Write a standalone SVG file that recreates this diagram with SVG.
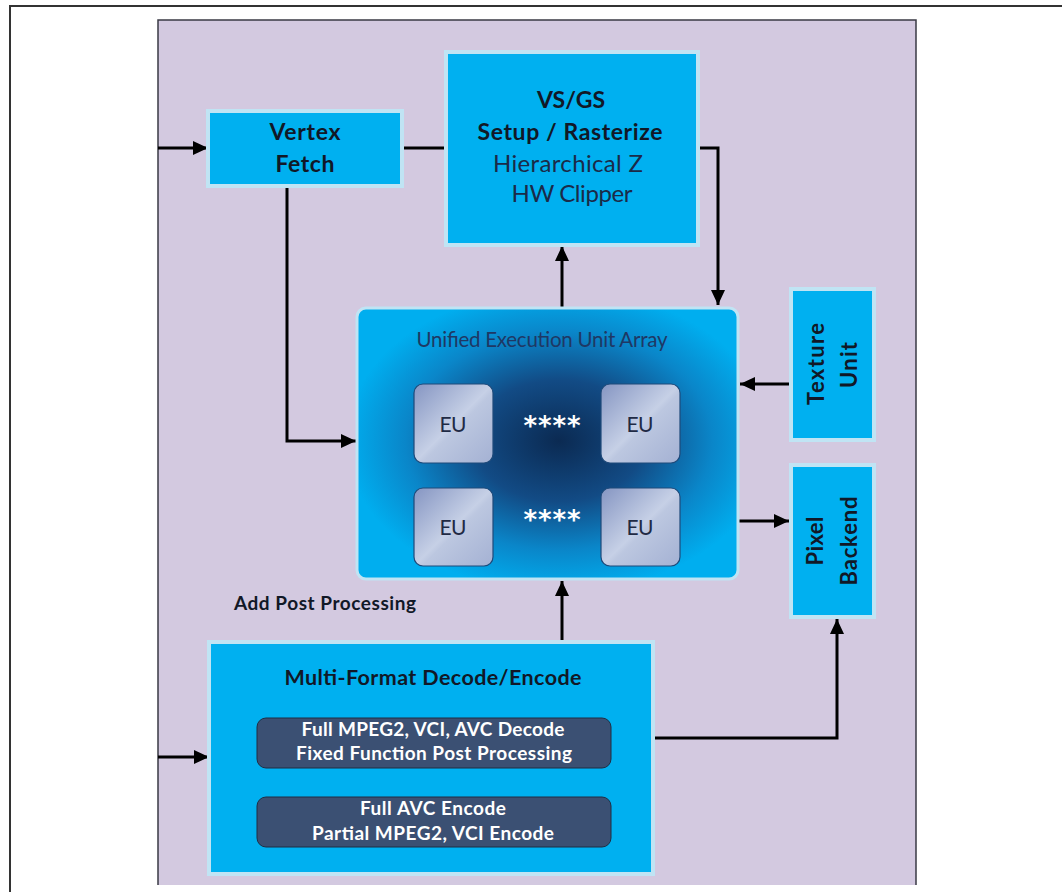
<svg xmlns="http://www.w3.org/2000/svg" width="1062" height="892" viewBox="0 0 1062 892">
<defs>
<radialGradient id="ueGrad" cx="0.53" cy="0.49" r="0.56" fx="0.53" fy="0.49">
<stop offset="0" stop-color="#0b2a52"/>
<stop offset="0.4" stop-color="#124b85"/>
<stop offset="0.72" stop-color="#0a86c9"/>
<stop offset="1" stop-color="#00aeef"/>
</radialGradient>
<linearGradient id="euGrad" x1="0" y1="0" x2="1" y2="1">
<stop offset="0" stop-color="#8595c2"/>
<stop offset="0.5" stop-color="#c6d0e6"/>
<stop offset="0.55" stop-color="#bcc7e0"/>
<stop offset="1" stop-color="#a4b1d3"/>
</linearGradient>
<marker id="ah" markerUnits="userSpaceOnUse" markerWidth="16" markerHeight="14" refX="15" refY="7" orient="auto">
<path d="M0,0 L15,7 L0,14 z" fill="#000"/>
</marker>
</defs>
<style>
.box{fill:#00b0f0;stroke:#c0e4f4;stroke-width:4}
.t{font-family:Lato,"Open Sans","Liberation Sans",sans-serif;text-anchor:middle;fill:#111827}
.b{font-weight:bold}
.w{fill:#ffffff}
.n{fill:#1b2a48}
.ast{font-family:"DejaVu Sans",sans-serif;font-weight:bold;text-anchor:middle;fill:#ffffff}
.con{fill:none;stroke:#000;stroke-width:3}
.inner{fill:#3b5073;stroke:#1f2d45;stroke-width:1}
.eu{fill:url(#euGrad);stroke:#1f4a7a;stroke-width:1.2}
</style>
<rect x="0" y="0" width="1062" height="892" fill="#ffffff"/>
<g id="frame">
<path d="M1062,6 L10,6 L10,892" fill="none" stroke="#333" stroke-width="2"/>
<rect x="158" y="20" width="758" height="865" fill="#d3c9e0"/>
<path d="M158,885 L158,20 L916,20 L916,885" fill="none" stroke="#3a3a44" stroke-width="1.5"/>
</g>
<g id="connectors">
<path class="con" d="M158,148 L208,148" marker-end="url(#ah)"/>
<path class="con" d="M402,148 L446,148"/>
<path class="con" d="M698,148 L718,148 L718,305" marker-end="url(#ah)"/>
<path class="con" d="M562,307 L562,246" marker-end="url(#ah)"/>
<path class="con" d="M287,186 L287,441 L356,441" marker-end="url(#ah)"/>
<path class="con" d="M790,384 L740,384" marker-end="url(#ah)"/>
<path class="con" d="M738,521 L789,521" marker-end="url(#ah)"/>
<path class="con" d="M158,757 L209,757" marker-end="url(#ah)"/>
<path class="con" d="M562,643 L562,581" marker-end="url(#ah)"/>
<path class="con" d="M653,738 L837,738 L837,619" marker-end="url(#ah)"/>
</g>
<g id="vertex-fetch">
<rect class="box" x="208" y="111" width="194" height="75"/>
<text class="t b" x="305" y="140" font-size="23" textLength="71">Vertex</text>
<text class="t b" x="305" y="172" font-size="23" textLength="59">Fetch</text>
</g>
<g id="vs-gs">
<rect class="box" x="446" y="52" width="252" height="193"/>
<text class="t b" x="571" y="108" font-size="23" textLength="68">VS/GS</text>
<text class="t b" x="570" y="140" font-size="23" textLength="185">Setup / Rasterize</text>
<text class="t n" x="568" y="172" font-size="24" textLength="150">Hierarchical Z</text>
<text class="t n" x="572" y="202" font-size="24" textLength="121">HW Clipper</text>
</g>
<g id="unified-eu-array">
<rect x="357" y="308" width="381" height="271" rx="9" fill="url(#ueGrad)" stroke="#c0e4f4" stroke-width="3"/>
<text class="t" x="542" y="347" font-size="20.5" textLength="251" style="fill:#1f3864">Unified Execution Unit Array</text>
<text class="ast" x="552" y="435" font-size="26" textLength="57">****</text>
<text class="ast" x="552" y="529" font-size="26" textLength="57">****</text>
</g>
<g id="eu-1">
<rect class="eu" x="414" y="384" width="79" height="79" rx="9"/>
<text class="t" x="453" y="432" font-size="21" textLength="27" style="fill:#1f2a44">EU</text>
</g>
<g id="eu-2">
<rect class="eu" x="601" y="384" width="79" height="79" rx="9"/>
<text class="t" x="640" y="432" font-size="21" textLength="27" style="fill:#1f2a44">EU</text>
</g>
<g id="eu-3">
<rect class="eu" x="414" y="488" width="79" height="78" rx="9"/>
<text class="t" x="453" y="535" font-size="21" textLength="27" style="fill:#1f2a44">EU</text>
</g>
<g id="eu-4">
<rect class="eu" x="601" y="488" width="79" height="78" rx="9"/>
<text class="t" x="640" y="535" font-size="21" textLength="27" style="fill:#1f2a44">EU</text>
</g>
<g id="texture-unit">
<rect class="box" x="791" y="289" width="83" height="151"/>
<text class="t b" transform="translate(824,364) rotate(-90)" font-size="22" textLength="82">Texture</text>
<text class="t b" transform="translate(857,365) rotate(-90)" font-size="22" textLength="46">Unit</text>
</g>
<g id="pixel-backend">
<rect class="box" x="791" y="465" width="83" height="152"/>
<text class="t b" transform="translate(823,541) rotate(-90)" font-size="22" textLength="49">Pixel</text>
<text class="t b" transform="translate(857,541) rotate(-90)" font-size="22" textLength="89">Backend</text>
</g>
<g id="add-post-processing">
<text class="t b" x="325" y="610" font-size="19" textLength="182">Add Post Processing</text>
</g>
<g id="multi-format">
<rect class="box" x="209" y="642" width="444" height="232"/>
<text class="t b" x="433" y="685" font-size="21.5" textLength="297">Multi-Format Decode/Encode</text>
<rect class="inner" x="257" y="718" width="354" height="50" rx="9"/>
<text class="t b w" x="433" y="736" font-size="19" textLength="263">Full MPEG2, VCI, AVC Decode</text>
<text class="t b w" x="434" y="760" font-size="19" textLength="276">Fixed Function Post Processing</text>
<rect class="inner" x="257" y="797" width="354" height="50" rx="9"/>
<text class="t b w" x="433" y="815" font-size="19" textLength="146">Full AVC Encode</text>
<text class="t b w" x="433" y="840" font-size="19" textLength="242">Partial MPEG2, VCI Encode</text>
</g>
</svg>
